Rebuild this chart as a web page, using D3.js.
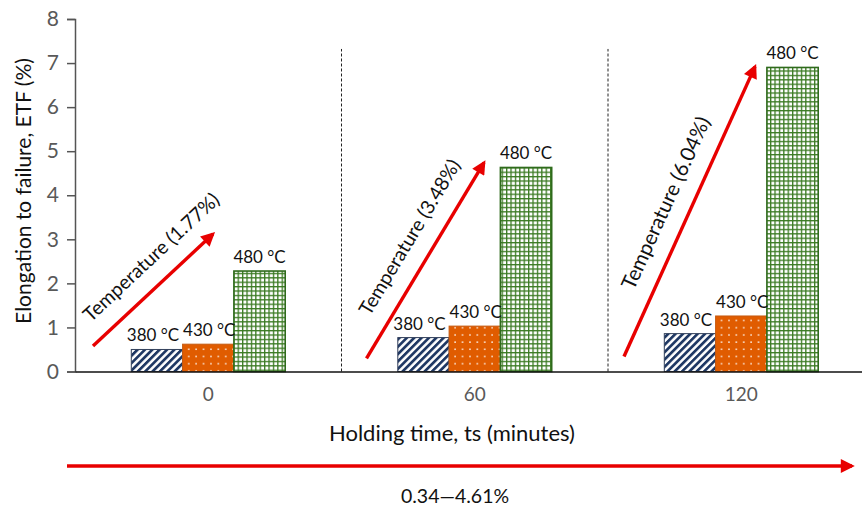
<!DOCTYPE html>
<html>
<head>
<meta charset="utf-8">
<script src="https://cdn.jsdelivr.net/npm/d3@7"></script>
<style>
  html, body { margin: 0; padding: 0; background: #fff; }
  svg { display: block; }
  text { font-family: Lato, "Open Sans", sans-serif; }
</style>
</head>
<body>
<svg id="chart" width="862" height="510"></svg>
<script>
// ---------------- data ----------------
const categories = ["0", "60", "120"];          // holding time (minutes)
const series = ["380 °C", "430 °C", "480 °C"];   // temperatures
const etf380 = [0.50, 0.77, 0.86];
const etf430 = [0.62, 1.03, 1.26];
const etf480 = [2.28, 4.63, 6.90];
const yTicks = [0, 1, 2, 3, 4, 5, 6, 7, 8];
const arrowLabels = ["Temperature (1.77%)", "Temperature (3.48%)", "Temperature (6.04%)"];
// arrow extents in data units (ETF %)
const arrowFrom = [0.58, 0.30, 0.34];
const arrowTo = [3.12, 4.74, 6.92];
const rangeLabel = "0.34\u20144.61%";
const xTitle = "Holding time, ts (minutes)";
const yTitle = "Elongation to failure, ETF (%)";

// ---------------- layout ----------------
const W = 862, H = 510;
const plotLeft = 75, plotRight = 874.5, plotTop = 19, plotBottom = 371.5;
const barW = 51.3;
// arrow x offsets (px) relative to the category band start
const arrowLayout = [
  { x0: 18, x1: 138, along: 21, fs: 19.5 },
  { x0: 25, x1: 142.5, along: 12, fs: 19.5 },
  { x0: 16, x1: 147, along: -2, fs: 20.5 }
];
const labelShift = [-4, 1, 0];
const red = "#e80000";
const navy = "#1f3864";
const orange = "#e05c00";
const green = "#3a7a22";

const svg = d3.select("#chart");
const defs = svg.append("defs");

// patterns
const pStripe = defs.append("pattern").attr("id", "p380")
  .attr("patternUnits", "userSpaceOnUse").attr("width", 5.2).attr("height", 5.2)
  .attr("patternTransform", "rotate(45)");
pStripe.append("rect").attr("width", 5.2).attr("height", 5.2).attr("fill", "#fff");
pStripe.append("rect").attr("x", 0).attr("width", 2.7).attr("height", 5.2).attr("fill", navy);

const pDots = defs.append("pattern").attr("id", "p430")
  .attr("patternUnits", "userSpaceOnUse").attr("width", 7.4).attr("height", 7.2);
pDots.append("rect").attr("width", 7.4).attr("height", 7.2).attr("fill", orange);
pDots.append("rect").attr("x", 3).attr("y", 3).attr("width", 1.5).attr("height", 1.5).attr("fill", "#fff").attr("opacity", 0.9);

const pGrid = defs.append("pattern").attr("id", "p480")
  .attr("patternUnits", "userSpaceOnUse").attr("width", 4.4).attr("height", 4.4);
pGrid.append("rect").attr("width", 4.4).attr("height", 4.4).attr("fill", "#fff");
pGrid.append("rect").attr("x", 0).attr("y", 0).attr("width", 1.3).attr("height", 4.4).attr("fill", green);
pGrid.append("rect").attr("x", 0).attr("y", 0).attr("width", 4.4).attr("height", 1.3).attr("fill", green);

const fills = ["url(#p380)", "url(#p430)", "url(#p480)"];
const strokes = ["#33415c", "#c55a11", "#2f6b1c"];

// arrow marker
defs.append("marker").attr("id", "ah")
  .attr("viewBox", "0 0 10 10").attr("refX", 8).attr("refY", 5)
  .attr("markerUnits", "userSpaceOnUse")
  .attr("markerWidth", 17).attr("markerHeight", 14).attr("orient", "auto")
  .append("path").attr("d", "M0,0 L10,5 L0,10 Z").attr("fill", red);

// scales
const x = d3.scaleBand().domain(categories).range([plotLeft, plotRight]).padding(0);
const groupW = barW * series.length;
const xs = d3.scaleBand().domain(series)
  .range([(x.bandwidth() - groupW) / 2, (x.bandwidth() + groupW) / 2]).padding(0);
const y = d3.scaleLinear().domain([0, 8]).range([plotBottom, plotTop]);

const values = [etf380, etf430, etf480];
const rows = [];
categories.forEach((c, ci) => series.forEach((s, si) => rows.push({ c, s, si, v: values[si][ci] })));

// dashed separators between categories
svg.append("g").selectAll("line").data(categories.slice(1)).join("line")
  .attr("x1", d => x(d)).attr("x2", d => x(d))
  .attr("y1", y(0)).attr("y2", y(7.32))
  .attr("stroke", "#222").attr("stroke-width", 1).attr("stroke-dasharray", "3,2");

// bars
svg.append("g").selectAll("rect").data(rows).join("rect")
  .attr("x", d => x(d.c) + xs(d.s))
  .attr("y", d => y(d.v))
  .attr("width", xs.bandwidth())
  .attr("height", d => y(0) - y(d.v))
  .attr("fill", d => fills[d.si])
  .attr("stroke", d => strokes[d.si])
  .attr("stroke-width", d => d.si === 2 ? 1.6 : 1);

// data labels
svg.append("g").selectAll("text").data(rows).join("text")
  .attr("x", d => x(d.c) + xs(d.s) + xs.bandwidth() / 2 + labelShift[d.si])
  .attr("y", d => y(d.v) - 8)
  .attr("text-anchor", "middle")
  .attr("font-size", 17).attr("fill", "#111")
  .text(d => d.s);

// y axis
const yAxis = d3.axisLeft(y).tickValues(yTicks).tickSize(8).tickPadding(8).tickFormat(d3.format("d"));
const gy = svg.append("g").attr("transform", `translate(${plotLeft},0)`).call(yAxis);
gy.select(".domain").attr("stroke", "#555").attr("stroke-width", 1.5);
gy.selectAll(".tick line").attr("stroke", "#555").attr("stroke-width", 1.5);
gy.selectAll(".tick text").attr("font-size", 21).attr("fill", "#595959")
  .style("font-family", "Lato, sans-serif");

// x axis
const xAxis = d3.axisBottom(x).tickSize(0).tickPadding(16);
const gx = svg.append("g").attr("transform", `translate(0,${plotBottom})`).call(xAxis);
gx.select(".domain").attr("stroke", "#111").attr("stroke-width", 1.5);
gx.selectAll(".tick text").attr("font-size", 19).attr("fill", "#595959")
  .style("font-family", "Lato, sans-serif");

// axis titles
svg.append("text").attr("x", 452).attr("y", 441).attr("text-anchor", "middle")
  .attr("font-size", 22).attr("fill", "#111").text(xTitle);
svg.append("text").attr("transform", "translate(31,191) rotate(-90)")
  .attr("text-anchor", "middle").attr("font-size", 21).attr("fill", "#111").text(yTitle);

// temperature arrows
categories.forEach((c, i) => {
  const L = arrowLayout[i];
  const x0 = x(c) + L.x0, y0 = y(arrowFrom[i]);
  const x1 = x(c) + L.x1, y1 = y(arrowTo[i]);
  svg.append("line").attr("x1", x0).attr("y1", y0).attr("x2", x1).attr("y2", y1)
    .attr("stroke", red).attr("stroke-width", 3.4).attr("marker-end", "url(#ah)");
  const ang = Math.atan2(y1 - y0, x1 - x0);
  const ux = Math.cos(ang), uy = Math.sin(ang);
  const nx = uy, ny = -ux; // up-left normal
  const mx = (x0 + x1) / 2 + ux * L.along + nx * 26;
  const my = (y0 + y1) / 2 + uy * L.along + ny * 26;
  svg.append("text")
    .attr("transform", `translate(${mx},${my}) rotate(${ang * 180 / Math.PI})`)
    .attr("text-anchor", "middle").attr("dominant-baseline", "central")
    .attr("font-size", L.fs).attr("fill", "#111").text(arrowLabels[i]);
});

// bottom range arrow
svg.append("line").attr("x1", 67).attr("y1", 466).attr("x2", 852).attr("y2", 466)
  .attr("stroke", red).attr("stroke-width", 3.6).attr("marker-end", "url(#ah)");
svg.append("text").attr("x", 455).attr("y", 503).attr("text-anchor", "middle")
  .attr("font-size", 19.5).attr("fill", "#111").text(rangeLabel);
</script>
</body>
</html>
